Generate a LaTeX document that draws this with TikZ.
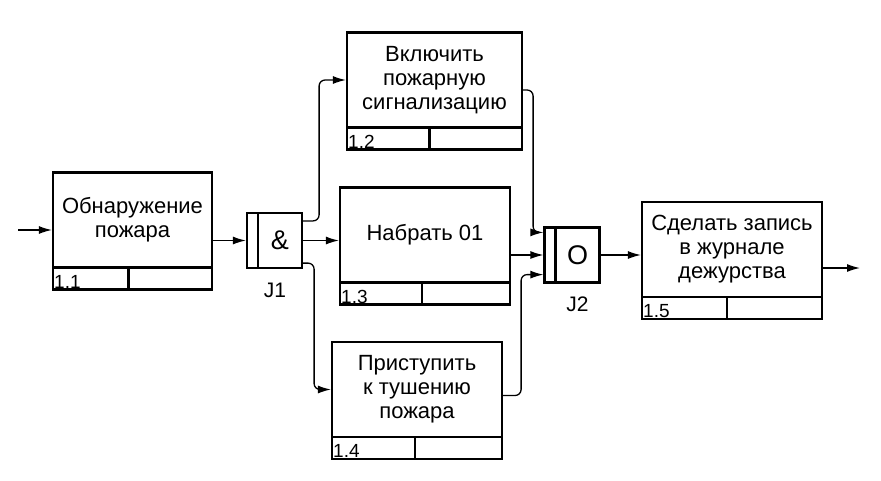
\documentclass[tikz,border=0pt]{standalone}
\usepackage{fontspec}
\setmainfont{Liberation Sans}
\usetikzlibrary{arrows.meta,positioning,calc}

\begin{document}
\begin{tikzpicture}[x=1pt, y=-1pt,
  box/.style={draw, line width=2.2pt, minimum height=95pt, inner sep=2pt, align=center, font=\fontsize{22}{24}\selectfont},
  strip/.style={draw, line width=2.2pt, minimum height=22pt, inner sep=0pt, outer sep=0pt},
  num/.style={anchor=south west, inner sep=1pt, font=\fontsize{19}{19}\selectfont},
  jbar/.style={draw, line width=2.2pt, minimum width=11pt, minimum height=55pt, inner sep=0pt},
  jbox/.style={draw, line width=2.2pt, minimum width=44pt, minimum height=55pt, inner sep=0pt, font=\fontsize{27}{27}\selectfont},
  jlab/.style={font=\fontsize{21}{21}\selectfont},
  arr/.style={-{Latex[length=13pt,width=8pt]}, line width=1.3pt, rounded corners=6pt}
]
  \useasboundingbox (0,0) rectangle (881,480);

  % units of work
  \node[box, minimum width=159pt] (b11) at (132.5,220) {Обнаружение\\пожара};
  \node[box, minimum width=175pt] (b12) at (434.5,80) {Включить\\пожарную\\сигнализацию};
  \node[box, minimum width=170pt] (b13) at (425,235) {Набрать 01};
  \node[box, minimum width=170pt] (b14) at (417,389.5) {Приступить\\к тушению\\пожара};
  \node[box, minimum width=180pt] (b15) at (732,249.5) {Сделать запись\\в журнале\\дежурства};

  % reference strips
  \node[strip, below=-1.1pt of b11, minimum width=159pt] (s11) {};
  \node[strip, below=-1.1pt of b12, minimum width=175pt] (s12) {};
  \node[strip, below=-1.1pt of b13, minimum width=170pt] (s13) {};
  \node[strip, below=-1.1pt of b14, minimum width=170pt] (s14) {};
  \node[strip, below=-1.1pt of b15, minimum width=180pt] (s15) {};
  \draw[line width=2.2pt] ([xshift=-4pt]s11.north) -- ([xshift=-4pt]s11.south);
  \draw[line width=2.2pt] ([xshift=-5pt]s12.north) -- ([xshift=-5pt]s12.south);
  \draw[line width=2.2pt] ([xshift=-3pt]s13.north) -- ([xshift=-3pt]s13.south);
  \draw[line width=2.2pt] ([xshift=-2pt]s14.north) -- ([xshift=-2pt]s14.south);
  \draw[line width=2.2pt] ([xshift=-5pt]s15.north) -- ([xshift=-5pt]s15.south);
  \node[num] (n11) at (s11.south west) {1.1};
  \node[num] (n12) at (s12.south west) {1.2};
  \node[num] (n13) at (s13.south west) {1.3};
  \node[num] (n14) at (s14.south west) {1.4};
  \node[num] (n15) at (s15.south west) {1.5};

  % junctions
  \node[jbar] (j1b) at (252.5,240.5) {};
  \node[jbox, right=-2.2pt of j1b] (j1) {\&};
  \node[jlab, below=10pt of j1, xshift=-5pt] (j1lab) {J1};
  \node[jbar] (j2b) at (550,255) {};
  \node[jbox, right=-2.2pt of j2b] (j2) {O};
  \node[jlab, below=10pt of j2] (j2lab) {J2};

  % connectors
  \coordinate (in) at (18,230);
  \coordinate (out) at (860,268);
  \draw[arr] (in) -- (b11.west |- in);
  \draw[arr] (b11.east |- j1b) -- (j1b);
  \draw[arr] ($(j1.north east)+(0,9)$) -- ++(16,0) |- (b12.west);
  \draw[arr] (j1.east) -- (j1.east -| b13.west);
  \draw[arr] ($(j1.south east)+(0,-6)$) -- ++(11,0) |- (b14.west);
  \draw[arr] ($(b12.east)+(0,10)$) -- ++(10,0) |- ($(j2b.north west)+(0,6)$);
  \draw[arr] (b13.east |- j2b) -- (j2b);
  \draw[arr] ($(b14.east)+(0,6)$) -- ++(18,0) |- ($(j2b.south west)+(0,-9)$);
  \draw[arr] (j2.east) -- (j2.east -| b15.west);
  \draw[arr] (b15.east |- out) -- (out);
\end{tikzpicture}
\end{document}
